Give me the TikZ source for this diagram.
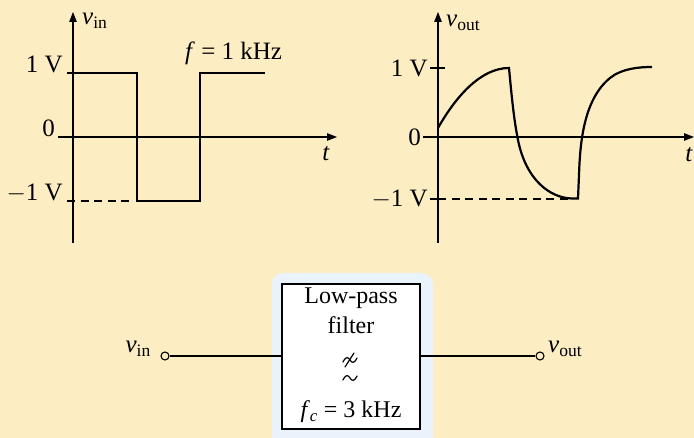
\documentclass[tikz,border=0pt]{standalone}
\usepackage{amsmath}
\usepackage{fontspec}
\setmainfont{Liberation Serif}
\usetikzlibrary{arrows.meta}
\definecolor{bg}{RGB}{253,237,194}
\definecolor{glow}{RGB}{234,243,251}
\tikzset{
  axis/.style={line width=1.1pt,-{Triangle[length=10pt,width=7.5pt]}},
  wave/.style={line width=2.2pt,line join=miter},
  dashwave/.style={line width=2.2pt,dash pattern=on 8pt off 5.5pt},
  tick/.style={line width=2pt},
  lbl/.style={font=\fontsize{25}{27}\selectfont,inner sep=0pt},
  boxtxt/.style={font=\fontsize{24}{26}\selectfont,inner sep=0pt},
  term/.style={circle,draw,line width=1.1pt,fill=bg,inner sep=0pt,minimum size=8pt},
  wire/.style={line width=2pt},
  sym/.style={line width=1.2pt,line cap=round},
  filterbox/.style={draw,line width=2.4pt,fill=white,minimum width=138pt,minimum height=145pt,inner sep=0pt}
}
\newcommand{\vsym}[1]{$\text{\itshape v}_{\text{#1}}$}
\begin{document}
\begin{tikzpicture}[x=1pt,y=-1pt]
\useasboundingbox (0,0) rectangle (694,438);
\fill[bg] (0,0) rectangle (694,438);
% ---------- left plot ----------
\draw[axis] (73,243) -- (73,12);
\draw[axis] (58,137) -- (337,137);
\draw[wave] (67,73) -- (137,73) -- (137,201) -- (200,201) -- (200,73) -- (265,73);
\draw[dashwave] (67,201) -- (133,201);
\node[lbl,anchor=base east] (l1) at (63,73) {1 V};
\node[lbl,anchor=base east] (l0) at (55,137) {0};
\node[lbl,anchor=base east] (lm1) at (63,201) {$-$1 V};
\node[lbl,anchor=base west] (lvin) at (82,25) {\vsym{in}};
\node[lbl,anchor=base west] (lf) at (185,60) {\textit{f} = 1 kHz};
\node[lbl,anchor=base] (lt) at (326,161) {\textit{t}};
% ---------- right plot ----------
\draw[axis] (438,243) -- (438,12);
\draw[axis] (423,137) -- (694,137);
\draw[tick] (430,68) -- (445,68);
\draw[tick] (430,199) -- (438,199);
\draw[dashwave] (438,199) -- (572,199);
\draw[wave] (438,128) .. controls (455,98) and (480,68) .. (509,68)
  .. controls (512,100) and (514,120) .. (518,140)
  .. controls (526,180) and (550,198) .. (572,198.5) -- (578,198.5)
  -- (579,175) .. controls (580,145) and (583,100) .. (610,78)
  .. controls (622,68.2) and (640,67) .. (652,67);
\node[lbl,anchor=east] (r1) at (428,68) {1 V};
\node[lbl,anchor=base east] (r0) at (421,146) {0};
\node[lbl,anchor=east] (rm1) at (428,199) {$-$1 V};
\node[lbl,anchor=base west] (rvout) at (446,27) {\vsym{out}};
\node[lbl,anchor=base] (rt) at (689,162) {\textit{t}};
% ---------- filter block ----------
\fill[glow,rounded corners=11pt] (272,273) rectangle (433,450);
\node[filterbox] (filter) at (351,356.5) {};
\node[term] (tin) at (165,356) {};
\node[term] (tout) at (540,356) {};
\draw[wire] (tin) -- (filter.west |- tin);
\draw[wire] (filter.east |- tout) -- (tout);
\node[lbl,anchor=base east] (vin) at (151,353) {\vsym{in}};
\node[lbl,anchor=base west] (vout) at (548,353) {\vsym{out}};
\node[boxtxt,anchor=base] (t1) at (351,304) {Low-pass};
\node[boxtxt,anchor=base] (t2) at (351,334) {filter};
% crossed tilde and tilde (low-pass symbol)
\draw[sym] (343,362) .. controls (346,356) and (348,357) .. (350,360)
  .. controls (352,363) and (354,364) .. (357,358);
\draw[sym] (345,367) -- (354,353);
\draw[sym] (343,380) .. controls (346,374) and (348,375) .. (350,378)
  .. controls (352,381) and (354,382) .. (357,376);
\node[boxtxt,anchor=base] (t5) at (351,418) {\textit{f}$_{\text{\itshape c}}$ = 3 kHz};
\end{tikzpicture}
\end{document}
